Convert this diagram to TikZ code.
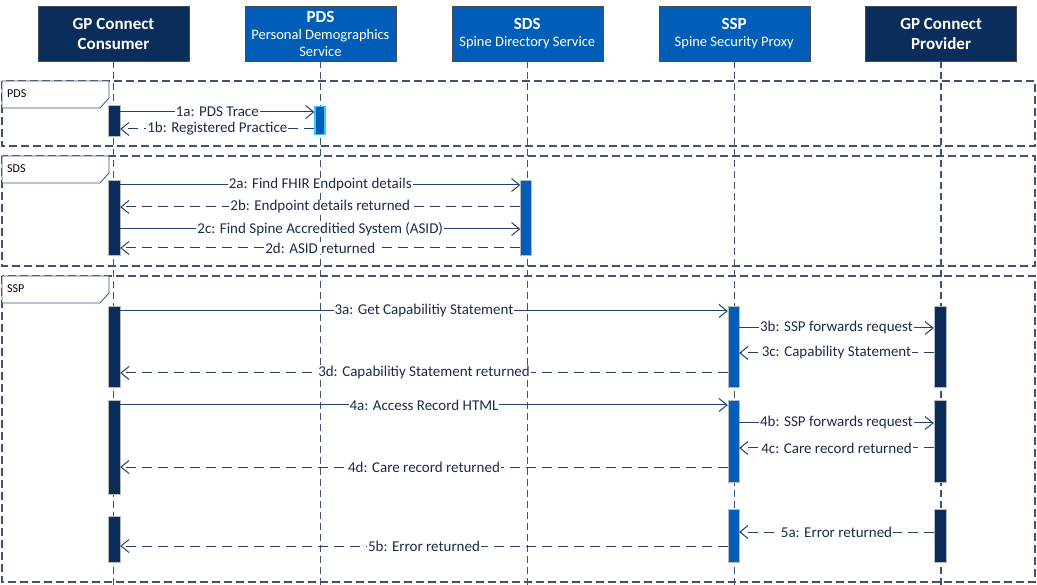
\documentclass[tikz,border=0pt]{standalone}
\usepackage{fontspec}
\setmainfont{Carlito}
\usetikzlibrary{arrows.meta,positioning,calc}
\definecolor{gpnavy}{HTML}{0A2D5C}
\definecolor{nhsblue}{HTML}{005EB8}
\definecolor{lifecol}{HTML}{3E5372}
\definecolor{msgcol}{HTML}{24416B}
\definecolor{lbltext}{HTML}{1A2C4C}
\definecolor{pdsedge}{HTML}{3CC8F0}
\tikzset{
	actor/.style={
		rectangle,
		draw=gray!60!black,
		fill=gpnavy,
		text=white,
		minimum width=151pt,
		minimum height=55pt,
		align=center,
		font=\fontsize{17}{20}\selectfont\bfseries,
	},
	service/.style={
		actor,
		fill=nhsblue,
		font=\fontsize{14.5}{17}\selectfont,
	},
	lifeline/.style={draw=lifecol, line width=1.3pt, dash pattern=on 7pt off 4pt},
	frame/.style={draw=lifecol, line width=1.1pt, dash pattern=on 8pt off 4pt},
	tab/.style={draw=lifecol, fill=white, line width=0.8pt},
	tablbl/.style={font=\fontsize{12}{14}\selectfont, text=black, inner sep=0pt},
	conbar/.style={
		rectangle,
		draw=gray!55,
		fill=gpnavy,
		minimum width=12pt,
		inner sep=0pt,
	},
	srvbar/.style={conbar, fill=nhsblue, minimum width=11pt},
	call/.style={draw=msgcol, line width=1pt, -{Straight Barb[length=8pt,width=13pt]}},
	reply/.style={call, dash pattern=on 10pt off 6pt},
	lbl/.style={fill=white, inner sep=1pt, text=lbltext, font=\fontsize{15}{17}\selectfont},
}

\begin{document}
\begin{tikzpicture}[x=1pt,y=-1pt,node distance=55.5pt]
	\useasboundingbox (0,0) rectangle (1037,585);

	% frames
	\draw[frame] (2,81) rectangle (1035,146);
	\draw[frame] (2,156) rectangle (1035,266);
	\draw[frame] (2,276) rectangle (1035,582);
	\draw[tab] (2,81) -- (109,81) -- (109,98) -- (100,108) -- (2,108) -- cycle;
	\draw[tab] (2,156) -- (109,156) -- (109,173) -- (100,183) -- (2,183) -- cycle;
	\draw[tab] (2,276) -- (109,276) -- (109,293) -- (100,303) -- (2,303) -- cycle;
	\node[tablbl, anchor=west] (pdsfr) at (7,94) {PDS};
	\node[tablbl, anchor=west] (sdsfr) at (7,169) {SDS};
	\node[tablbl, anchor=west] (sspfr) at (7,289) {SSP};

	% heads
	\node [actor] (cons) at (113.5,33.5) {GP Connect\\Consumer};
	\node [service] (pds) [right=of cons] {{\fontsize{17}{20}\selectfont\bfseries PDS}\\Personal Demographics\\Service};
	\node [service] (sds) [right=of pds] {{\fontsize{17}{20}\selectfont\bfseries SDS}\\Spine Directory Service};
	\node [service] (ssp) [right=of sds] {{\fontsize{17}{20}\selectfont\bfseries SSP}\\Spine Security Proxy};
	\node [actor] (prov) [right=of ssp] {GP Connect\\Provider};

	\foreach \who in {cons,pds,sds,ssp,prov}{
		\coordinate (\who-end) at (\who.south |- 0,585);
		\draw[lifeline] (\who.south) -- (\who-end);
	}

	% activations
	\node[conbar, minimum height=31pt] (c1) at (114,120.5) {};
	\node[srvbar, draw=pdsedge, line width=1.2pt, minimum width=10pt, minimum height=28pt] (p1) at (320,120.5) {};
	\node[conbar, minimum height=75pt] (c2) at (114,217.5) {};
	\node[srvbar, minimum height=75pt] (s2) at (526,217.5) {};
	\node[conbar, minimum height=81pt] (c3) at (114,346.5) {};
	\node[srvbar, minimum height=81pt] (x3) at (733.5,347) {};
	\node[conbar, minimum height=81pt] (v3) at (940,347) {};
	\node[conbar, minimum height=94pt] (c4) at (114,447) {};
	\node[srvbar, minimum height=82pt] (x4) at (733.5,441) {};
	\node[conbar, minimum height=82pt] (v4) at (940,441) {};
	\node[conbar, minimum height=46pt] (c5) at (114,539) {};
	\node[srvbar, minimum height=53pt] (x5) at (733.5,535.5) {};
	\node[conbar, minimum height=53pt] (v5) at (940,535.5) {};

	% messages
	\draw[call] (c1.east |- 0,112) -- node[lbl] {1a: PDS Trace} (p1.west |- 0,112);
	\draw[reply] (p1.west |- 0,129) -- node[lbl] {1b: Registered Practice} (c1.east |- 0,129);

	\draw[call] (c2.east |- 0,185) -- node[lbl] {2a: Find FHIR Endpoint details} (s2.west |- 0,185);
	\draw[reply] (s2.west |- 0,207) -- node[lbl] {2b: Endpoint details returned} (c2.east |- 0,207);
	\draw[call] (c2.east |- 0,229) -- node[lbl] {2c: Find Spine Accreditied System (ASID)} (s2.west |- 0,229);
	\draw[reply] (s2.west |- 0,248) -- node[lbl] {2d: ASID returned} (c2.east |- 0,248);

	\draw[call] (c3.east |- 0,311) -- node[lbl] {3a: Get Capabilitiy Statement} (x3.west |- 0,311);
	\draw[call] (x3.east |- 0,328) -- node[lbl] {3b: SSP forwards request} (v3.west |- 0,328);
	\draw[reply] (v3.west |- 0,353) -- node[lbl] {3c: Capability Statement} (x3.east |- 0,353);
	\draw[reply] (x3.west |- 0,373) -- node[lbl] {3d: Capabilitiy Statement returned} (c3.east |- 0,373);

	\draw[call] (c4.east |- 0,405) -- node[lbl] {4a: Access Record HTML} (x4.west |- 0,405);
	\draw[call] (x4.east |- 0,423) -- node[lbl] {4b: SSP forwards request} (v4.west |- 0,423);
	\draw[reply] (v4.west |- 0,448) -- node[lbl] {4c: Care record returned} (x4.east |- 0,448);
	\draw[reply] (x4.west |- 0,467) -- node[lbl] {4d: Care record returned} (c4.east |- 0,467);

	\draw[reply] (v5.west |- 0,532) -- node[lbl] {5a: Error returned} (x5.east |- 0,532);
	\draw[reply] (x5.west |- 0,546) -- node[lbl] {5b: Error returned} (c5.east |- 0,546);
\end{tikzpicture}
\end{document}
